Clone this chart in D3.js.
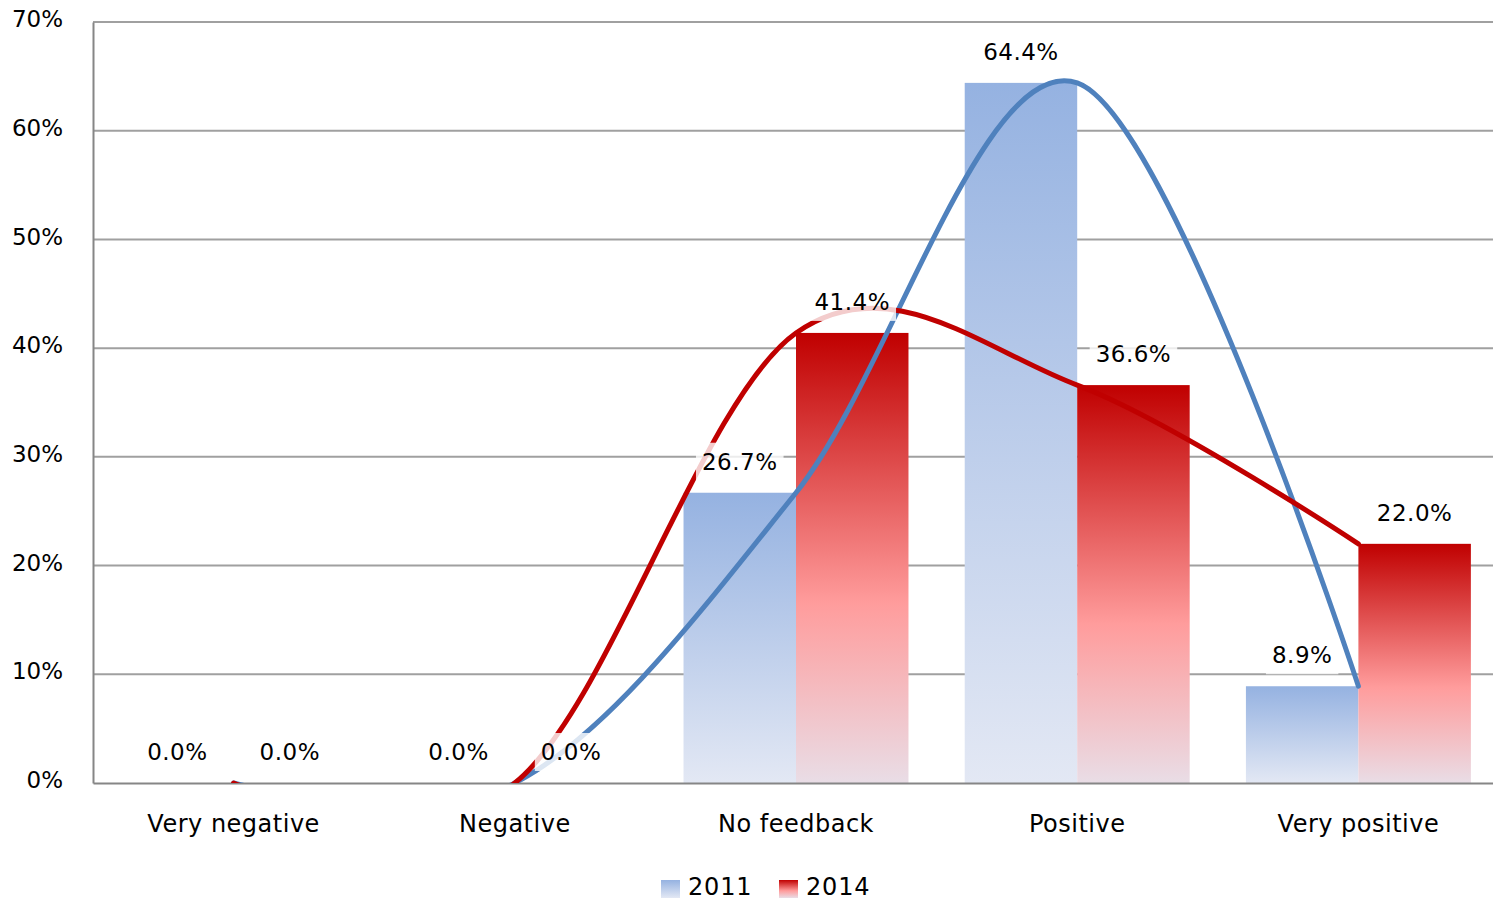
<!DOCTYPE html>
<html>
<head>
<meta charset="utf-8">
<script src="https://cdn.jsdelivr.net/npm/d3@7"></script>
<style>
  body { margin: 0; background: #fff; }
  svg { display: block; }
  svg text { font-family: "DejaVu Sans", Verdana, sans-serif; }
</style>
</head>
<body>
<svg id="chart" width="1493" height="900"></svg>
<script>
// chart data
const categories = ["Very negative", "Negative", "No feedback", "Positive", "Very positive"];
const seriesNames = ["2011", "2014"];
const values2011 = [0.0, 0.0, 26.7, 64.4, 8.9];
const values2014 = [0.0, 0.0, 41.4, 36.6, 22.0];
const yTicks = [0, 10, 20, 30, 40, 50, 60, 70];

const FONT = "DejaVu Sans";
const colors = {
    "2011": { line: "#4f81bd", stops: [[0, "#95b2e1"], [1, "#e3e8f4"]] },
    "2014": { line: "#c00000", stops: [[0, "#c00000"], [0.6, "#ff9c9c"], [1, "#e9dde6"]] },
};

const svg = d3.select("#chart");
const margin = { left: 93, top: 22, bottom: 117 };
const W = 1493, H = 900;
const plotRight = 1499; // the plot area runs slightly past the picture edge
const plotBottom = H - margin.bottom;

const x = d3.scaleBand()
    .domain(categories)
    .range([margin.left, plotRight])
    .paddingInner(0.2)
    .paddingOuter(0.1);
const xs = d3.scaleBand().domain(seriesNames).range([0, x.bandwidth()]);
const y = d3.scaleLinear().domain([0, 70]).range([plotBottom, margin.top]);

const data = seriesNames.map((s, i) => ({
    name: s,
    values: (i === 0 ? values2011 : values2014).map((v, j) => ({ cat: categories[j], v })),
}));

// gradients
const defs = svg.append("defs");
seriesNames.forEach((s) => {
    const g = defs.append("linearGradient")
        .attr("id", "grad" + s)
        .attr("x1", 0).attr("y1", 0).attr("x2", 0).attr("y2", 1);
    colors[s].stops.forEach(([o, c]) => g.append("stop").attr("offset", o).attr("stop-color", c));
});
defs.append("clipPath").attr("id", "plotClip")
    .append("rect")
    .attr("x", margin.left).attr("y", margin.top)
    .attr("width", plotRight - margin.left)
    .attr("height", plotBottom - margin.top);

// gridlines
svg.append("g")
    .selectAll("line")
    .data(yTicks.filter((d) => d > 0))
    .join("line")
    .attr("x1", margin.left).attr("x2", W)
    .attr("y1", (d) => y(d)).attr("y2", (d) => y(d))
    .attr("stroke", "#a0a0a0").attr("stroke-width", 2);

// y axis
const yAxis = svg.append("g")
    .attr("transform", `translate(${margin.left},0)`)
    .call(d3.axisLeft(y).tickValues(yTicks).tickFormat((d) => d + "%").tickSize(0).tickPadding(30))
    .attr("font-family", FONT);
yAxis.select(".domain").attr("stroke", "#868686").attr("stroke-width", 2);
yAxis.selectAll("text").attr("font-size", 23).attr("fill", "#000").attr("dy", "0.2em");

// bars
const groups = svg.append("g")
    .selectAll("g")
    .data(categories)
    .join("g")
    .attr("transform", (c) => `translate(${x(c)},0)`);

groups.selectAll("rect")
    .data((c, j) => data.map((s) => ({ name: s.name, v: s.values[j].v })))
    .join("rect")
    .attr("x", (d) => xs(d.name))
    .attr("width", xs.bandwidth())
    .attr("y", (d) => y(d.v))
    .attr("height", (d) => plotBottom - y(d.v))
    .attr("fill", (d) => `url(#grad${d.name})`);

// x axis
const xAxis = svg.append("g")
    .attr("transform", `translate(0,${plotBottom})`)
    .call(d3.axisBottom(x).tickSize(0).tickPadding(32))
    .attr("font-family", FONT);
xAxis.select(".domain").attr("stroke", "#868686").attr("stroke-width", 2);
xAxis.selectAll("text").attr("font-size", 24).attr("letter-spacing", "0.5px").attr("fill", "#000");

// smoothed lines through category centres
const line = d3.line()
    .x((d) => x(d.cat) + x.bandwidth() / 2)
    .y((d) => y(d.v))
    .curve(d3.curveCardinal.tension(0));

svg.append("g")
    .attr("clip-path", "url(#plotClip)")
    .selectAll("path")
    .data(data)
    .join("path")
    .attr("d", (d) => line(d.values))
    .attr("fill", "none")
    .attr("stroke", (d) => colors[d.name].line)
    .attr("stroke-width", 5)
    .attr("stroke-linecap", "round");

// data labels with translucent white boxes
const labels = svg.append("g").attr("font-family", FONT);
data.forEach((s) => {
    s.values.forEach((d) => {
        const g = labels.append("g");
        const t = g.append("text")
            .attr("x", x(d.cat) + xs(s.name) + xs.bandwidth() / 2)
            .attr("y", y(d.v) - 23)
            .attr("text-anchor", "middle")
            .attr("font-size", 23)
            .attr("letter-spacing", "0.5px")
            .attr("fill", "#000")
            .text(d.v.toFixed(1) + "%");
        const b = t.node().getBBox();
        g.insert("rect", "text")
            .attr("x", b.x - 6).attr("y", b.y - 6)
            .attr("width", b.width + 12).attr("height", b.height + 12)
            .attr("fill", "#fff").attr("fill-opacity", 0.8);
    });
});

// legend
const legend = svg.append("g").attr("transform", "translate(661,880)").attr("font-family", FONT);
const items = legend.selectAll("g")
    .data(seriesNames)
    .join("g")
    .attr("transform", (d, i) => `translate(${i * 118},0)`);
items.append("rect")
    .attr("width", 19).attr("height", 18)
    .attr("fill", (d) => `url(#grad${d})`);
items.append("text")
    .attr("x", 27).attr("y", 15)
    .attr("font-size", 24)
    .attr("letter-spacing", "0.8px")
    .attr("fill", "#000")
    .text((d) => d);
</script>
</body>
</html>
